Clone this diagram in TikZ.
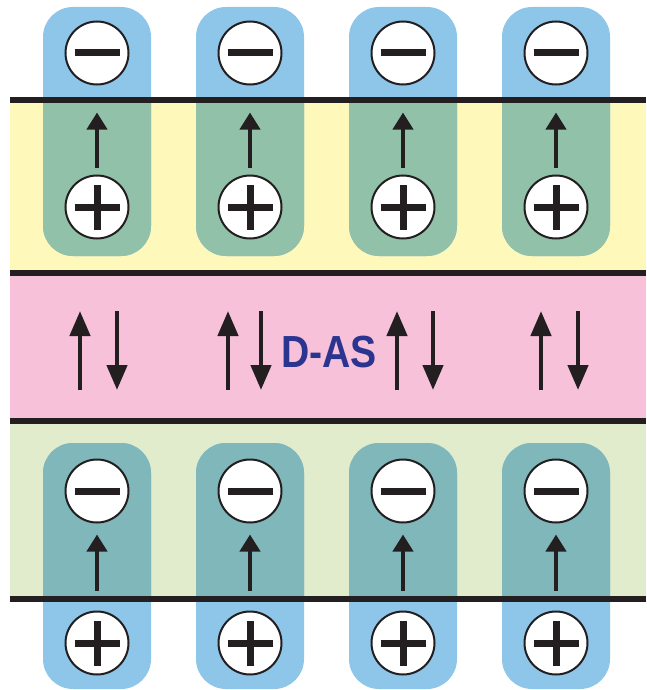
\documentclass[tikz,border=0pt]{standalone}
\usepackage{fontspec}
\setsansfont{Liberation Sans}
\usetikzlibrary{arrows.meta}
\definecolor{pillblue}{HTML}{8EC6EA}
\definecolor{bandyellow}{HTML}{FEF8BA}
\definecolor{bandpink}{HTML}{F6C1D9}
\definecolor{bandgreen}{HTML}{E0ECCB}
\definecolor{tealtop}{HTML}{92C1A9}
\definecolor{tealbot}{HTML}{80B7BA}
\definecolor{ink}{HTML}{231F20}
\definecolor{dasblue}{HTML}{2B3590}
\tikzset{
  charge/.style={circle, draw=ink, line width=2pt, fill=white, minimum size=63pt, inner sep=0pt},
  bar/.style={draw=ink, line width=7pt},
  sepline/.style={draw=ink, line width=6pt},
  polar/.style={draw=ink, line width=4pt, -{Triangle[length=17pt,width=20pt]}},
  spin/.style={draw=ink, line width=4.5pt, -{Triangle[length=25pt,width=20pt]}},
  pill/.style={rounded corners=30pt}
}
\begin{document}
\begin{tikzpicture}[x=1pt,y=-1pt]
\useasboundingbox (0,0) rectangle (646,690);
% bands
\fill[bandyellow] (10,100) rectangle (646,273);
\fill[bandpink] (10,273) rectangle (646,421);
\fill[bandgreen] (10,421) rectangle (646,599);
% pills
\foreach \x in {97,250,403,556} {
  \fill[pillblue, pill] (\x-54,7) rectangle (\x+54,256);
  \begin{scope}
    \clip (10,100) rectangle (646,273);
    \fill[tealtop, pill] (\x-54,7) rectangle (\x+54,256);
  \end{scope}
  \fill[pillblue, pill] (\x-54,443) rectangle (\x+54,689);
  \begin{scope}
    \clip (10,421) rectangle (646,599);
    \fill[tealbot, pill] (\x-54,443) rectangle (\x+54,689);
  \end{scope}
}
% separating lines
\draw[sepline] (10,100) -- (646,100);
\draw[sepline] (10,273) -- (646,273);
\draw[sepline] (10,421) -- (646,421);
\draw[sepline] (10,599) -- (646,599);
% charges and dipole arrows
\foreach \i/\x in {1/97,2/250,3/403,4/556} {
  \node[charge] (tm\i) at (\x,53) {};
  \node[charge] (tp\i) at (\x,207) {};
  \node[charge] (bm\i) at (\x,491) {};
  \node[charge] (bp\i) at (\x,643) {};
  \draw[bar] ([xshift=-22.5pt]tm\i.center) -- ([xshift=22.5pt]tm\i.center);
  \draw[bar] ([xshift=-22.5pt]tp\i.center) -- ([xshift=22.5pt]tp\i.center);
  \draw[bar] ([yshift=-22.5pt]tp\i.center) -- ([yshift=22.5pt]tp\i.center);
  \draw[bar] ([xshift=-22.5pt]bm\i.center) -- ([xshift=22.5pt]bm\i.center);
  \draw[bar] ([xshift=-22.5pt]bp\i.center) -- ([xshift=22.5pt]bp\i.center);
  \draw[bar] ([yshift=-22.5pt]bp\i.center) -- ([yshift=22.5pt]bp\i.center);
  \draw[polar, shorten <=7pt, shorten >=27pt] (tp\i) -- (tm\i);
  \draw[polar, shorten <=20pt, shorten >=11pt] (bp\i) -- (bm\i);
}
% antiparallel spins in the middle layer
\foreach \j/\u/\d in {1/80/117,2/228/261,3/397/433,4/541/578} {
  \coordinate (ua\j) at (\u,390);
  \coordinate (ub\j) at (\u,311);
  \coordinate (da\j) at (\d,311);
  \coordinate (db\j) at (\d,390);
  \draw[spin] (ua\j) -- (ub\j);
  \draw[spin] (da\j) -- (db\j);
}
\node[font=\sffamily\bfseries\fontsize{45}{45}\selectfont, text=dasblue, xscale=0.87, inner sep=0pt] (das) at (329,352) {D-AS};
\end{tikzpicture}
\end{document}
